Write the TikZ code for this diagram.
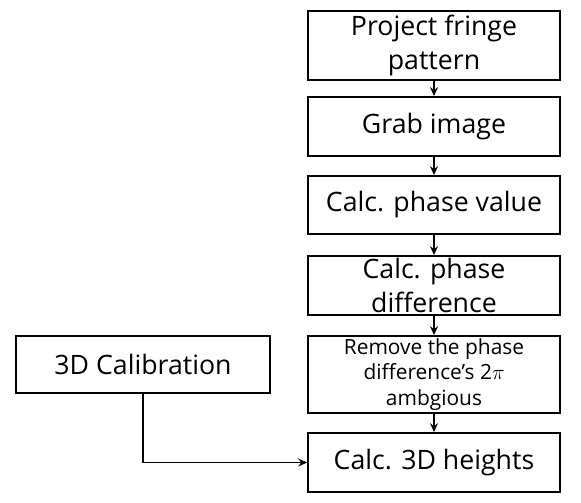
\documentclass[tikz,border=0pt]{standalone}
\usepackage{fontspec}
\setmainfont{Open Sans}
\usetikzlibrary{arrows.meta}

\begin{document}
\begin{tikzpicture}[x=0.02cm, y=-0.02cm, >={Stealth[length=5pt,width=4.5pt]}, line join=miter]
  \tikzset{
    stepbox/.style={draw, line width=1.1pt, minimum width=5.04cm, inner sep=0pt, align=center, font=\fontsize{15.2}{19.3}\selectfont},
    flow/.style={->, line width=0.8pt}
  }
  \useasboundingbox (0,0) rectangle (581,503);
  \node[stepbox, minimum height=1.38cm] (proj) at (434,45.5) {Project fringe\\pattern};
  \node[stepbox, minimum height=1.18cm] (grab) at (434,126.5) {Grab image};
  \node[stepbox, minimum height=1.16cm] (phase) at (434,205) {Calc. phase value};
  \node[stepbox, minimum height=1.18cm] (diff) at (434,285.5) {Calc. phase\\difference};
  \node[stepbox, minimum height=1.54cm, font=\fontsize{11.9}{14.5}\selectfont] (remove) at (434,374.5) {Remove the phase\\difference's 2$\pi$\\ambgious};
  \node[stepbox, minimum height=1.18cm] (height) at (434,462.5) {Calc. 3D heights};
  \node[stepbox, minimum width=5.08cm, minimum height=1.14cm] (calib) at (143,364.5) {3D Calibration};
  \draw[flow] (proj) -- (grab);
  \draw[flow] (grab) -- (phase);
  \draw[flow] (phase) -- (diff);
  \draw[flow] (diff) -- (remove);
  \draw[flow] (remove) -- (height);
  \draw[flow] (calib.south) |- (height.west);
\end{tikzpicture}
\end{document}
